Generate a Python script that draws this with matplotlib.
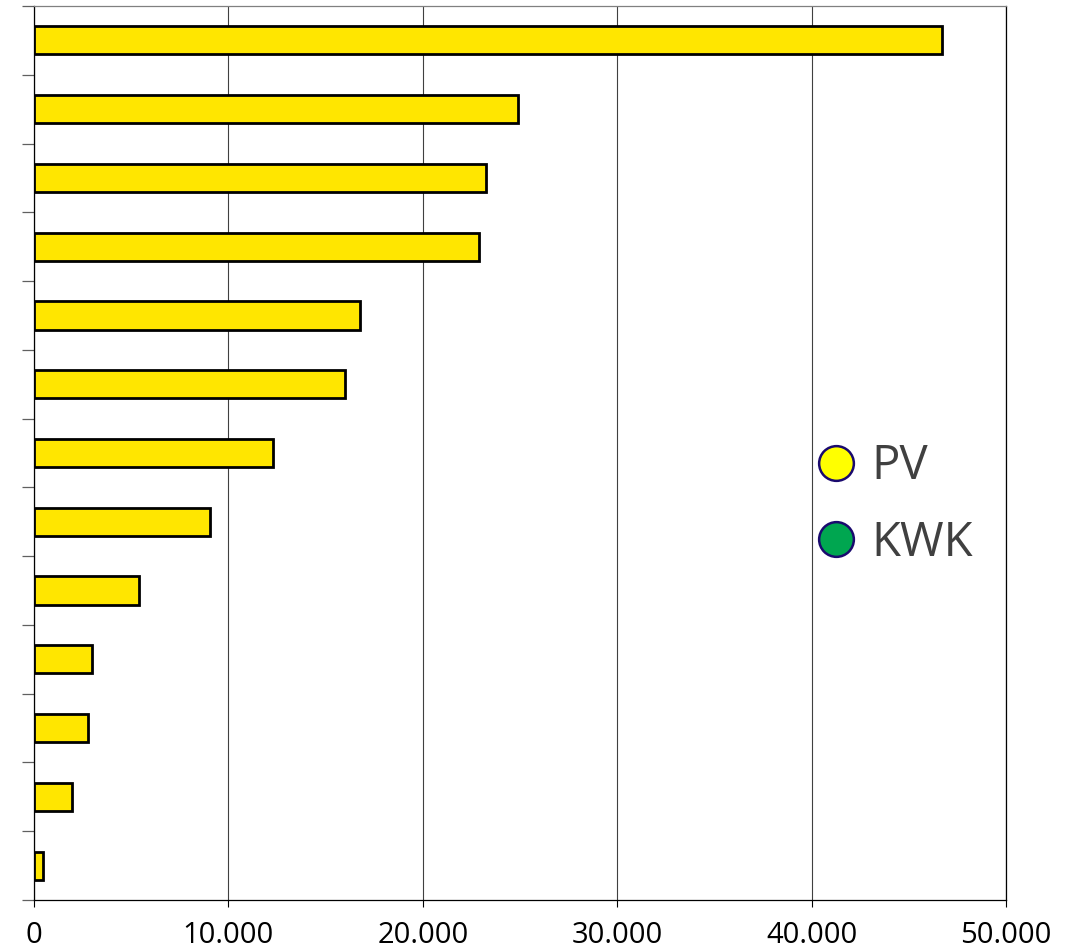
import matplotlib
matplotlib.use("Agg")
import matplotlib.pyplot as plt
from matplotlib.lines import Line2D
import numpy as np

plt.rcParams['font.family'] = ['Open Sans', 'DejaVu Sans']

values = [46700, 24900, 23250, 22900, 16750, 16000, 12300, 9050, 5400, 2980, 2780, 1950, 460]
xticks = [0, 10000, 20000, 30000, 40000, 50000]
xtick_labels = ["0", "10.000", "20.000", "30.000", "40.000", "50.000"]
legend_labels = ["PV", "KWK"]
legend_colors = ["#FFFF00", "#00A650"]

fig = plt.figure(figsize=(10.81, 9.51), dpi=100)
ax = fig.add_axes([34/1081, 51/951, (1006-34)/1081, (900-6)/951])

y = np.arange(len(values))
ax.barh(y, values, height=0.41, color="#FFE600", edgecolor="black", linewidth=2.0, zorder=3)
ax.set_ylim(len(values) - 0.5, -0.5)
ax.set_xlim(0, 50000)
ax.set_xticks(xticks)
ax.set_xticklabels(xtick_labels, fontsize=21, color="black")
ax.tick_params(axis='x', direction='out', length=5, width=0.8, color='black', pad=10)
ax.set_yticks([])
ax.set_yticks(np.arange(-0.5, len(values) + 0.5, 1.0), minor=True)
ax.tick_params(axis='y', which='minor', direction='out', length=9, width=0.9, color='#606060')
ax.xaxis.grid(True, color='#404040', linewidth=0.8, zorder=0)
ax.set_axisbelow(True)
for s in ['left', 'bottom', 'right']:
    ax.spines[s].set_color('black')
    ax.spines[s].set_linewidth(0.9)
ax.spines['top'].set_color('#808080')
ax.spines['top'].set_linewidth(0.9)

handles = [Line2D([], [], linestyle='none', marker='o', markersize=25,
                  markerfacecolor=c, markeredgecolor='#1A0A6E', markeredgewidth=1.8)
           for c in legend_colors]
leg = ax.legend(handles, legend_labels, loc='center left', bbox_to_anchor=(0.781, 0.442),
                frameon=False, fontsize=34, labelcolor='#404040', handlelength=1.0,
                handletextpad=0.25, labelspacing=0.62, borderaxespad=0)

fig.savefig("out.png", dpi=100)
